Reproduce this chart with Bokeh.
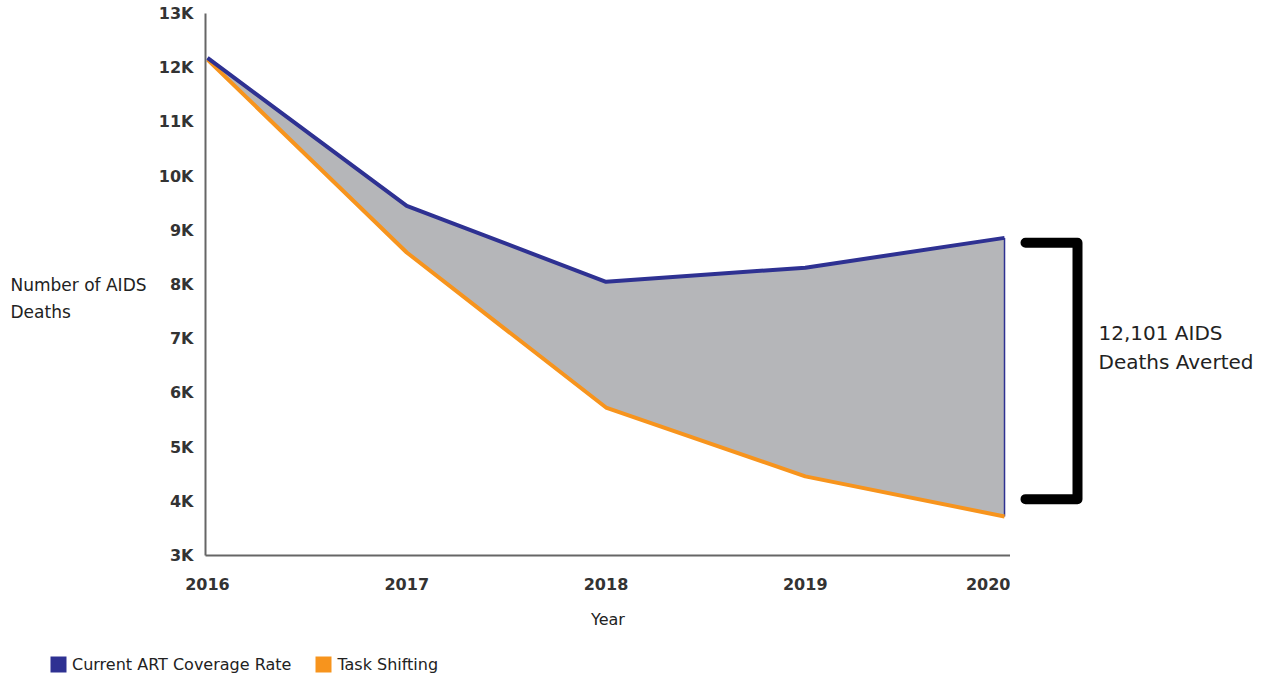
from bokeh.plotting import figure
from bokeh.layouts import column, row
from bokeh.models import Range1d, FixedTicker, Legend, LegendItem
from bokeh.core.properties import value
from bokeh.embed import file_html
from bokeh.resources import INLINE

# ---- data ----
years = [2016, 2017, 2018, 2019, 2020]
current_art = [12180, 9450, 8050, 8310, 8860]
task_shifting = [12150, 8590, 5730, 4460, 3720]
series_names = ["Current ART Coverage Rate", "Task Shifting"]
y_ticks = [3000, 4000, 5000, 6000, 7000, 8000, 9000, 10000, 11000, 12000, 13000]
y_tick_labels = ["3K", "4K", "5K", "6K", "7K", "8K", "9K", "10K", "11K", "12K", "13K"]
x_ticks = years
x_tick_labels = ["2016", "2017", "2018", "2019", "2020"]
y_title_lines = ["Number of AIDS", "Deaths"]
x_title = "Year"
annotation_lines = ["12,101 AIDS", "Deaths Averted"]

BLUE = "#2e3192"
ORANGE = "#f7941d"
GRAY = "#b5b6b9"
AXIS = "#666666"
TEXT = "#333333"
FONT = "DejaVu Sans"

H_MAIN = 640
W_LEFT = 150
y_range = Range1d(3000, 13000)

# left panel: y-axis title (shares the y scale)
lt = figure(width=W_LEFT, height=H_MAIN, output_backend="svg", toolbar_location=None,
            x_range=Range1d(0, W_LEFT), y_range=y_range, x_axis_type=None, y_axis_type=None,
            min_border_left=0, min_border_right=0, min_border_top=13,
            min_border_bottom=H_MAIN - 555)
lt.outline_line_color = None
lt.grid.visible = False
lt.text(x=[10, 10], y=[y_ticks[5], y_ticks[5]], y_offset=[0, 27], text=y_title_lines,
        text_font=value(FONT), text_font_size="17px", text_color="#222222",
        text_baseline="middle", text_align="left")

# main plot
p = figure(width=1010 - W_LEFT, height=H_MAIN, output_backend="svg", toolbar_location=None,
           x_range=Range1d(2015.99, 2020.03), y_range=y_range,
           min_border_left=205 - W_LEFT, min_border_right=0, min_border_top=13,
           min_border_bottom=H_MAIN - 555)
p.outline_line_color = None
p.grid.visible = False

p.xaxis.ticker = FixedTicker(ticks=x_ticks)
p.xaxis.major_label_overrides = {t: l for t, l in zip(x_ticks, x_tick_labels)}
p.xaxis.axis_line_color = AXIS
p.xaxis.axis_line_width = 2
p.xaxis.major_tick_line_color = None
p.xaxis.minor_tick_line_color = None
p.xaxis.major_label_standoff = 16
p.xaxis.major_label_text_font = FONT
p.xaxis.major_label_text_font_style = "bold"
p.xaxis.major_label_text_font_size = "16px"
p.xaxis.major_label_text_color = TEXT
p.xaxis.axis_label = x_title
p.xaxis.axis_label_standoff = 17
p.xaxis.axis_label_text_font = FONT
p.xaxis.axis_label_text_font_style = "normal"
p.xaxis.axis_label_text_font_size = "16px"
p.xaxis.axis_label_text_color = "#222222"

p.yaxis.ticker = FixedTicker(ticks=y_ticks)
p.yaxis.major_label_overrides = {t: l for t, l in zip(y_ticks, y_tick_labels)}
p.yaxis.axis_line_color = AXIS
p.yaxis.axis_line_width = 2
p.yaxis.major_tick_line_color = None
p.yaxis.minor_tick_line_color = None
p.yaxis.major_label_standoff = 6
p.yaxis.major_label_text_font = FONT
p.yaxis.major_label_text_font_style = "bold"
p.yaxis.major_label_text_font_size = "16px"
p.yaxis.major_label_text_color = TEXT

# area between series
p.varea(x=years, y1=task_shifting, y2=current_art, fill_color=GRAY)
p.segment(x0=[years[-1]], y0=[task_shifting[-1]], x1=[years[-1]], y1=[current_art[-1]],
          line_color=BLUE, line_width=1.5)
p.line(years, task_shifting, line_color=ORANGE, line_width=4)
p.line(years, current_art, line_color=BLUE, line_width=4)

# right panel: bracket annotation (shares the y scale)
q = figure(width=247, height=H_MAIN, output_backend="svg", toolbar_location=None,
           x_range=Range1d(0, 247), y_range=y_range, x_axis_type=None, y_axis_type=None,
           min_border_left=0, min_border_right=0, min_border_top=13,
           min_border_bottom=H_MAIN - 555)
q.outline_line_color = None
q.grid.visible = False
b_top = current_art[-1] - 90
b_bot = task_shifting[-1] + 320
q.line([15, 67, 67, 15], [b_top, b_top, b_bot, b_bot], line_color="black",
       line_width=10, line_join="round", line_cap="round")
b_mid = (b_top + b_bot) / 2
q.text(x=[88, 88], y=[b_mid, b_mid], y_offset=[-38, -9], text=annotation_lines,
       text_font=value(FONT), text_font_size="20px", text_color="#222222",
       text_baseline="middle", text_align="left")

# legend strip
H_LEG = 37
lg = figure(width=1257, height=H_LEG, output_backend="svg", toolbar_location=None,
            x_range=Range1d(0, 1), y_range=Range1d(0, 1), x_axis_type=None, y_axis_type=None,
            min_border=0)
lg.outline_line_color = None
lg.grid.visible = False
r1 = lg.quad(left=[5], right=[6], bottom=[5], top=[6], fill_color=BLUE, line_color=None)
r2 = lg.quad(left=[5], right=[6], bottom=[5], top=[6], fill_color=ORANGE, line_color=None)
legend = Legend(items=[LegendItem(label=series_names[0], renderers=[r1]),
                       LegendItem(label=series_names[1], renderers=[r2])],
                orientation="horizontal", location=(48, 3),
                glyph_width=20, glyph_height=20, label_standoff=4, spacing=22,
                padding=0, margin=0, border_line_color=None, background_fill_alpha=0,
                label_text_font=FONT, label_text_font_size="16px", label_text_color="#222222")
lg.add_layout(legend, "center")

layout = column(row(lt, p, q), lg)
open("out.html", "w").write(file_html(layout, INLINE))
